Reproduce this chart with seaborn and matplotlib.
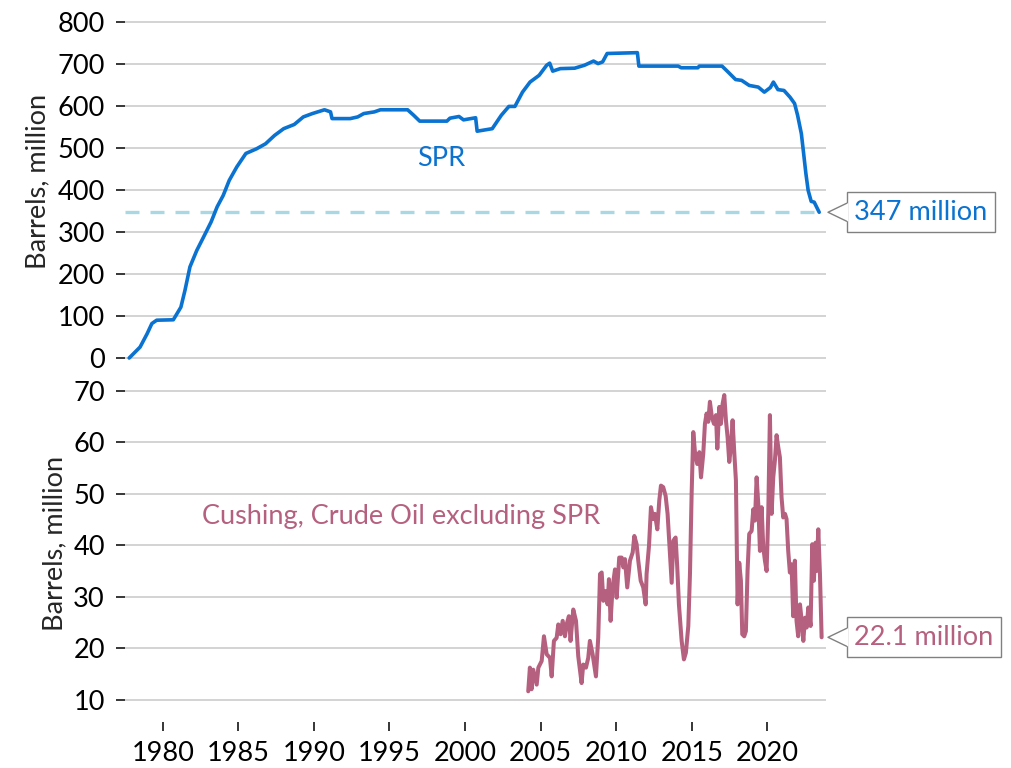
import matplotlib
matplotlib.use("Agg")
import matplotlib.pyplot as plt
import seaborn as sns
import pandas as pd
from matplotlib.patches import Polygon
from matplotlib.lines import Line2D
from matplotlib.transforms import IdentityTransform

# ---------------- data ----------------
spr_year = [1977.78, 1978.5, 1978.97, 1979.28, 1979.6, 1980.7, 1981.2, 1981.47, 1981.8, 1982.25,
            1982.7, 1983.2, 1983.6, 1984.0, 1984.4, 1984.9, 1985.5, 1986.2, 1986.8, 1987.4,
            1988.0, 1988.7, 1989.3, 1989.9, 1990.7, 1991.1, 1991.2, 1992.4, 1992.9, 1993.3,
            1994.0, 1994.4, 1996.2, 1996.6, 1997.0, 1998.8, 1999.0, 1999.6, 1999.9, 2000.7,
            2000.8, 2001.8, 2002.4, 2002.9, 2003.3, 2003.8, 2004.3, 2004.9, 2005.4, 2005.6,
            2005.8, 2006.3, 2007.25, 2007.9, 2008.5, 2008.8, 2009.1, 2009.4, 2011.4, 2011.5,
            2014.1, 2014.3, 2015.4, 2015.5, 2017.0, 2017.4, 2017.9, 2018.3, 2018.8, 2019.4,
            2019.8, 2020.2, 2020.4, 2020.7, 2021.1, 2021.5, 2021.8, 2022.0, 2022.25, 2022.4,
            2022.55, 2022.7, 2022.9, 2023.1, 2023.43]
spr_value = [0, 26, 58, 82, 90, 91, 121, 161, 217, 256,
             288, 324, 360, 387, 423, 455, 487, 498, 510, 530,
             546, 556, 574, 582, 591, 586, 570, 570, 574, 582,
             586, 591, 591, 578, 564, 564, 571, 575, 567, 572,
             540, 546, 578, 599, 599, 633, 657, 673, 697, 702,
             683, 689, 690, 697, 707, 701, 705, 725, 727, 695,
             695, 691, 691, 695, 695, 681, 663, 661, 649, 645,
             633, 644, 657, 639, 637, 621, 606, 578, 534, 487,
             439, 399, 373, 371, 347]

cush_year = [2004.18, 2004.29, 2004.40, 2004.51, 2004.74, 2004.85, 2005.07, 2005.22, 2005.40, 2005.62,
             2005.73, 2005.88, 2006.06, 2006.17, 2006.32, 2006.46, 2006.61, 2006.72, 2006.87, 2006.98,
             2007.16, 2007.34, 2007.49, 2007.71, 2007.82, 2008.00, 2008.15, 2008.26, 2008.44, 2008.66,
             2008.81, 2008.93, 2009.04, 2009.15, 2009.32, 2009.43, 2009.52, 2009.63, 2009.76, 2009.92,
             2010.03, 2010.20, 2010.36, 2010.47, 2010.58, 2010.73, 2010.91, 2011.09, 2011.20, 2011.35,
             2011.46, 2011.62, 2011.79, 2011.95, 2012.01, 2012.17, 2012.30, 2012.45, 2012.56, 2012.72,
             2012.85, 2012.96, 2013.11, 2013.27, 2013.40, 2013.56, 2013.67, 2013.78, 2013.93, 2014.04,
             2014.15, 2014.33, 2014.48, 2014.61, 2014.77, 2014.88, 2014.99, 2015.10, 2015.21, 2015.36,
             2015.50, 2015.61, 2015.76, 2015.87, 2015.98, 2016.09, 2016.20, 2016.33, 2016.47, 2016.60,
             2016.69, 2016.82, 2016.93, 2017.04, 2017.15, 2017.26, 2017.37, 2017.48, 2017.59, 2017.70,
             2017.81, 2017.92, 2018.03, 2018.14, 2018.25, 2018.34, 2018.47, 2018.58, 2018.69, 2018.80,
             2018.96, 2019.07, 2019.18, 2019.29, 2019.40, 2019.51, 2019.62, 2019.73, 2019.84, 2019.95,
             2020.06, 2020.17, 2020.28, 2020.39, 2020.50, 2020.61, 2020.72, 2020.83, 2020.94, 2021.05,
             2021.17, 2021.27, 2021.38, 2021.49, 2021.60, 2021.71, 2021.82, 2021.93, 2022.04, 2022.16,
             2022.27, 2022.38, 2022.49, 2022.60, 2022.71, 2022.86, 2022.97, 2023.08, 2023.19, 2023.26,
             2023.37, 2023.48, 2023.59]
cush_value = [11.6, 16.2, 12.0, 15.8, 12.9, 16.2, 17.5, 22.3, 18.8, 18.1,
              14.5, 21.4, 22.0, 24.6, 22.7, 25.3, 22.3, 24.6, 26.2, 21.4,
              27.5, 25.3, 18.4, 13.2, 16.8, 16.2, 18.1, 21.4, 18.8, 14.5,
              22.0, 34.4, 34.7, 29.2, 31.1, 28.5, 33.4, 25.3, 31.8, 35.3,
              29.8, 37.6, 37.6, 35.7, 37.3, 31.8, 37.0, 38.6, 41.8, 40.2,
              37.0, 33.1, 31.8, 28.5, 34.4, 39.9, 47.4, 45.1, 46.1, 43.1,
              48.7, 51.6, 51.3, 49.6, 46.1, 38.3, 32.7, 40.9, 41.5, 35.7,
              28.5, 21.4, 17.8, 19.1, 24.3, 34.4, 50.0, 62.0, 58.1, 55.8,
              58.1, 53.2, 57.8, 63.6, 65.6, 64.0, 67.9, 64.9, 63.6, 65.3,
              58.8, 66.9, 63.6, 67.5, 69.2, 64.3, 61.0, 56.2, 59.1, 64.3,
              58.1, 52.6, 28.5, 36.6, 33.1, 22.7, 22.3, 23.3, 35.0, 42.2,
              42.8, 47.0, 44.8, 53.2, 48.0, 38.9, 47.4, 39.6, 37.0, 35.0,
              46.1, 65.3, 46.1, 53.2, 56.5, 61.4, 59.1, 57.1, 49.3, 45.4,
              46.1, 45.1, 38.9, 34.7, 36.3, 26.2, 37.0, 25.3, 22.3, 28.5,
              25.3, 21.4, 25.9, 24.0, 27.9, 24.3, 40.2, 33.1, 40.5, 35.0,
              43.1, 34.4, 22.1]

top_yticks = [0, 100, 200, 300, 400, 500, 600, 700, 800]
bottom_yticks = [10, 20, 30, 40, 50, 60, 70]
x_ticks = [1980, 1985, 1990, 1995, 2000, 2005, 2010, 2015, 2020]
y_label = "Barrels, million"
spr_name = "SPR"
cush_name = "Cushing, Crude Oil excluding SPR"
spr_callout = "347 million"
cush_callout = "22.1 million"
spr_ref_level = 347

# ---------------- style ----------------
BLUE = "#0A72D0"
PINK = "#B5607F"
DASH = "#A9D8E4"
GRID = "#D0D0D0"
BOXEDGE = "#808080"

sns.set_theme(style="white")
plt.rcParams["font.family"] = ["Lato", "DejaVu Sans"]
FS = 19.5

fig = plt.figure(figsize=(10.11, 7.68), dpi=100)
W, H = 1011, 768
left_px, right_px = 125, 826
ax_top = fig.add_axes([left_px / W, 1 - 362.2 / H, (right_px - left_px) / W, 344.4 / H])
ax_bot = fig.add_axes([left_px / W, 1 - 722 / H, (right_px - left_px) / W, 333.6 / H])

xlim = (1977.503, 2023.88)

spr_df = pd.DataFrame({"year": spr_year, "value": spr_value})
cush_df = pd.DataFrame({"year": cush_year, "value": cush_value})

for ax in (ax_top, ax_bot):
    ax.set_xlim(*xlim)
    for s in ax.spines.values():
        s.set_visible(False)
    ax.grid(axis="y", color=GRID, lw=1.3)
    ax.grid(axis="x", visible=False)
    ax.set_axisbelow(True)
    ax.tick_params(axis="y", direction="out", length=6.5, width=1.1, color="black",
                   pad=8, labelsize=FS, labelcolor="black", left=True)

# top panel
ax_top.hlines(spr_ref_level, xlim[0], spr_year[-1], color=DASH, lw=2.4,
              linestyles=[(0, (4.2, 3.3))], zorder=1)
sns.lineplot(data=spr_df, x="year", y="value", ax=ax_top, color=BLUE, lw=2.6,
             estimator=None, sort=True, zorder=3)
ax_top.lines[-1].set_clip_on(False)
ax_top.set_ylim(-10, 810)
ax_top.set_yticks(top_yticks)
ax_top.set_xticks([])
ax_top.set_xlabel("")
ax_top.set_ylabel(y_label, fontsize=FS)
ax_top.yaxis.set_label_coords(-0.107, 0.526)
ax_top.text(1998.4, 476, spr_name, color=BLUE, fontsize=FS, ha="center", va="center")

# bottom panel
sns.lineplot(data=cush_df, x="year", y="value", ax=ax_bot, color=PINK, lw=2.9,
             estimator=None, sort=True, zorder=3)
ax_bot.set_ylim(5.63, 70.5)
ax_bot.set_yticks(bottom_yticks)
ax_bot.set_xticks(x_ticks)
ax_bot.set_xticklabels([str(t) for t in x_ticks])
ax_bot.tick_params(axis="x", direction="out", length=6.5, width=1.1, color="black",
                   pad=7, labelsize=FS, labelcolor="black", bottom=True)
ax_bot.set_xlabel("")
ax_bot.set_ylabel(y_label, fontsize=FS)
ax_bot.yaxis.set_label_coords(-0.083, 0.534)
ax_bot.text(1995.8, 45.5, cush_name, color=PINK, fontsize=FS, ha="center", va="center")


def callout(ax, value, text, color):
    tx = ax.transAxes.transform((1.0, 0.0))[0] + 2
    ty = ax.transData.transform((xlim[0], value))[1]
    bx = tx + 18.7
    hh = 9
    fig.text(bx + 7.5, ty, text, transform=IdentityTransform(), color=color, fontsize=FS,
             ha="left", va="center", zorder=3,
             bbox=dict(boxstyle="square,pad=0.27", fc="white", ec=BOXEDGE, lw=1.0))
    fig.add_artist(Polygon([(tx, ty), (bx, ty + hh), (bx + 1.6, ty + hh), (bx + 1.6, ty - hh),
                            (bx, ty - hh)], closed=True, fc="white", ec="none",
                           transform=IdentityTransform(), zorder=4))
    fig.add_artist(Line2D([bx, tx, bx], [ty + hh, ty, ty - hh], color=BOXEDGE, lw=1.0,
                          transform=IdentityTransform(), zorder=5))


callout(ax_top, spr_value[-1], spr_callout, BLUE)
callout(ax_bot, cush_value[-1], cush_callout, PINK)

fig.savefig("out.png", dpi=100)
